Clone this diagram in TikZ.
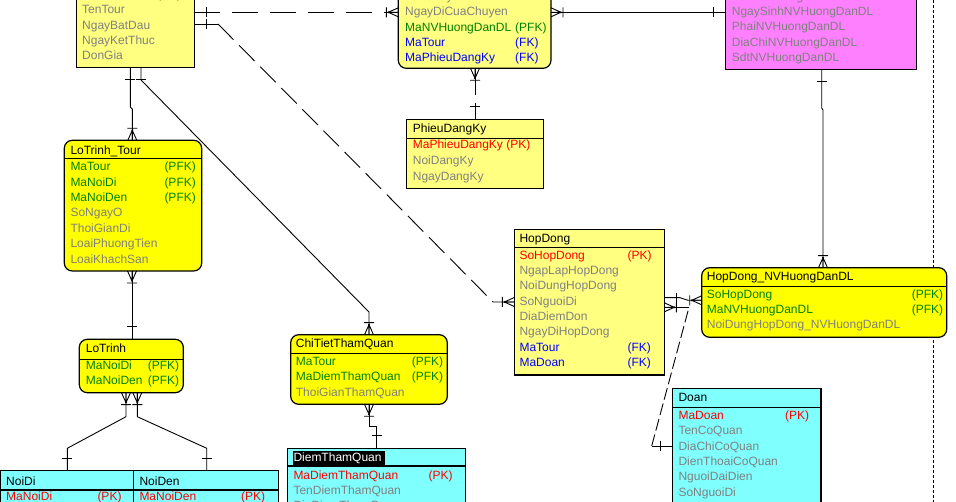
\documentclass[tikz,border=0pt]{standalone}
\usepackage{fontspec}
\setmainfont{Liberation Sans}
\usetikzlibrary{calc}
\definecolor{ly}{HTML}{FFFF80}
\definecolor{by}{HTML}{FFFF00}
\definecolor{mg}{HTML}{FF80FF}
\definecolor{cy}{HTML}{80FFFF}
\definecolor{gy}{HTML}{808080}
\definecolor{gn}{HTML}{008000}
\definecolor{rd}{HTML}{FF0000}
\definecolor{bl}{HTML}{0000FF}
\newcounter{attrc}
\newcommand\attr[4]{\stepcounter{attrc}\node[attr,text=#1] (t\arabic{attrc}) at (#2,#3) {#4};}
\tikzset{
  attr/.style={anchor=base west, inner sep=0pt, font=\fontsize{12}{14}\selectfont},
  ent/.style={draw=black, line width=1.2pt, anchor=north west, inner sep=0pt, outer sep=0pt},
  sepline/.style={line width=1.2pt},
  conn/.style={line width=0.9pt},
  crowfoot/.pic={\draw[line width=0.9pt] (0,-4.5)--(10,0) (0,0)--(10,0) (0,4.5)--(10,0) (12,-5)--(12,5); \fill (10,0) circle (1pt);},
  onebar/.pic={\draw[line width=0.9pt] (12.5,-5)--(12.5,5);},
}
\begin{document}
\begin{tikzpicture}[x=1pt,y=-1pt]
\useasboundingbox (0,0) rectangle (956,502);
\clip (0,0) rectangle (956,502);
\fill[white] (0,0) rectangle (956,502);

% page border line
\draw[dash pattern=on 3pt off 2pt, line width=0.9pt] (933.3,0) -- (933.3,502);

% ---------------- Tour
\node[ent, fill=ly, minimum width=118pt, minimum height=127.3pt] (tour) at (76.3,-60) {};
\attr{rd}{82}{-1.3}{MaTour}\attr{rd}{157}{-1.3}{(PK)}
\attr{gy}{82}{14}{TenTour}
\attr{gy}{82}{29.3}{NgayBatDau}
\attr{gy}{82}{44.7}{NgayKetThuc}
\attr{gy}{82}{60}{DonGia}

% ---------------- Chuyen
\node[ent, fill=ly, rounded corners=8pt, minimum width=152.7pt, minimum height=128.3pt] (chuyen) at (398.3,-60) {};
\attr{gy}{405}{0.8}{TenChuyen}
\attr{gy}{405}{16}{NgayDiCuaChuyen}
\attr{gn}{405}{31.3}{MaNVHuongDanDL}\attr{gn}{515}{31.3}{(PFK)}
\attr{bl}{405}{46.6}{MaTour}\attr{bl}{515}{46.6}{(FK)}
\attr{bl}{405}{61.9}{MaPhieuDangKy}\attr{bl}{515}{61.9}{(FK)}

% ---------------- NVHuongDanDL
\node[ent, fill=mg, minimum width=191pt, minimum height=129.3pt] (nv) at (725.7,-60) {};
\attr{gy}{731.7}{0.5}{TenNVHuongDanDL}
\attr{gy}{731.7}{15.7}{NgaySinhNVHuongDanDL}
\attr{gy}{731.7}{31}{PhaiNVHuongDanDL}
\attr{gy}{731.7}{46.3}{DiaChiNVHuongDanDL}
\attr{gy}{731.7}{61.6}{SdtNVHuongDanDL}

% ---------------- PhieuDangKy
\node[ent, fill=ly, minimum width=136.6pt, minimum height=69pt] (phieu) at (406.7,119.3) {};
\draw[sepline] (406.7,138.3) -- (543.3,138.3);
\attr{black}{412.7}{132.7}{PhieuDangKy}
\attr{rd}{412.7}{149}{MaPhieuDangKy (PK)}
\attr{gy}{412.7}{165}{NoiDangKy}
\attr{gy}{412.7}{180.7}{NgayDangKy}

% ---------------- LoTrinh_Tour
\node[ent, fill=by, rounded corners=8pt, minimum width=137.4pt, minimum height=130.7pt] (ltt) at (64.3,140.3) {};
\draw[sepline] (64.3,158.3) -- (201.7,158.3);
\attr{black}{70.3}{154.3}{LoTrinh\_Tour}
\attr{gn}{70.3}{170.7}{MaTour}\attr{gn}{164.3}{170.7}{(PFK)}
\attr{gn}{70.3}{186.1}{MaNoiDi}\attr{gn}{164.3}{186.1}{(PFK)}
\attr{gn}{70.3}{201.6}{MaNoiDen}\attr{gn}{164.3}{201.6}{(PFK)}
\attr{gy}{70.3}{217}{SoNgayO}
\attr{gy}{70.3}{232.4}{ThoiGianDi}
\attr{gy}{70.3}{247.9}{LoaiPhuongTien}
\attr{gy}{70.3}{263.3}{LoaiKhachSan}

% ---------------- LoTrinh
\node[ent, fill=by, rounded corners=8pt, minimum width=104pt, minimum height=53.4pt] (lt) at (79.3,339.3) {};
\draw[sepline] (79.3,359.3) -- (183.3,359.3);
\attr{black}{85.7}{352.7}{LoTrinh}
\attr{gn}{85.7}{369.3}{MaNoiDi}\attr{gn}{147.7}{369.3}{(PFK)}
\attr{gn}{85.7}{384.7}{MaNoiDen}\attr{gn}{147.7}{384.7}{(PFK)}

% ---------------- NoiDi / NoiDen
\node[ent, fill=cy, minimum width=133.3pt, minimum height=60pt] (noidi) at (0.6,470.7) {};
\node[ent, fill=cy, minimum width=145pt, minimum height=60pt] (noiden) at (133.3,470.7) {};
\draw[sepline] (0,490) -- (278.3,490);
\attr{black}{6}{485.7}{NoiDi}
\attr{rd}{6}{500.7}{MaNoiDi}\attr{rd}{97.3}{500.7}{(PK)}
\attr{black}{139.3}{485.7}{NoiDen}
\attr{rd}{139.3}{500.7}{MaNoiDen}\attr{rd}{241}{500.7}{(PK)}

% ---------------- ChiTietThamQuan
\node[ent, fill=by, rounded corners=8pt, minimum width=156.6pt, minimum height=69.6pt] (cttq) at (290.7,334.7) {};
\draw[sepline] (290.7,353.3) -- (447.3,353.3);
\attr{black}{295.7}{348}{ChiTietThamQuan}
\attr{gn}{295.7}{365.7}{MaTour}\attr{gn}{411.7}{365.7}{(PFK)}
\attr{gn}{295.7}{381}{MaDiemThamQuan}\attr{gn}{411.7}{381}{(PFK)}
\attr{gy}{295.7}{396.3}{ThoiGianThamQuan}

% ---------------- DiemThamQuan
\node[ent, fill=cy, minimum width=178pt, minimum height=80pt] (dtq) at (287.3,448.3) {};
\draw[sepline] (287.3,466) -- (465.3,466);
\fill[black] (292.7,450.7) rectangle (385,465);
\attr{white}{293.3}{461.3}{DiemThamQuan}
\attr{rd}{293.3}{479}{MaDiemThamQuan}\attr{rd}{428.3}{479}{(PK)}
\attr{gy}{293.3}{494.3}{TenDiemThamQuan}
\attr{gy}{293.3}{509.6}{DiaDiemThamQuan}

% ---------------- HopDong
\node[ent, fill=ly, minimum width=150pt, minimum height=145.7pt] (hd) at (514.3,229.3) {};
\draw[sepline] (514.3,247.3) -- (664.3,247.3);
\attr{black}{519.3}{242.7}{HopDong}
\attr{rd}{519.3}{259.3}{SoHopDong}\attr{rd}{627.3}{259.3}{(PK)}
\attr{gy}{519.3}{274.7}{NgapLapHopDong}
\attr{gy}{519.3}{290}{NoiDungHopDong}
\attr{gy}{519.3}{305.3}{SoNguoiDi}
\attr{gy}{519.3}{320.7}{DiaDiemDon}
\attr{gy}{519.3}{336}{NgayDiHopDong}
\attr{bl}{519.3}{351.3}{MaTour}\attr{bl}{627.3}{351.3}{(FK)}
\attr{bl}{519.3}{366.7}{MaDoan}\attr{bl}{627.3}{366.7}{(FK)}

% ---------------- HopDong_NVHuongDanDL
\node[ent, fill=by, rounded corners=8pt, minimum width=245pt, minimum height=69.6pt] (hdnv) at (701.7,267.7) {};
\draw[sepline] (701.7,286.7) -- (946.7,286.7);
\attr{black}{706.7}{280.7}{HopDong\_NVHuongDanDL}
\attr{gn}{706.7}{298.3}{SoHopDong}\attr{gn}{911.7}{298.3}{(PFK)}
\attr{gn}{706.7}{313.7}{MaNVHuongDanDL}\attr{gn}{911.7}{313.7}{(PFK)}
\attr{gy}{706.7}{329}{NoiDungHopDong\_NVHuongDanDL}

% ---------------- Doan
\node[ent, fill=cy, minimum width=148.3pt, minimum height=140pt] (doan) at (672.7,388.3) {};
\draw[sepline] (672.7,407.3) -- (821,407.3);
\attr{black}{678.3}{401.7}{Doan}
\attr{rd}{678.3}{419.3}{MaDoan}\attr{rd}{785}{419.3}{(PK)}
\attr{gy}{678.3}{434.7}{TenCoQuan}
\attr{gy}{678.3}{450}{DiaChiCoQuan}
\attr{gy}{678.3}{465.3}{DienThoaiCoQuan}
\attr{gy}{678.3}{480.7}{NguoiDaiDien}
\attr{gy}{678.3}{496}{SoNguoiDi}

% ================= connectors
% Tour -> Chuyen
\draw[conn, dash pattern=on 26pt off 12pt] (tour.east |- 0,12.3) -- (chuyen.west |- 0,12.3);
\pic at (tour.east |- 0,12.3) {onebar};
\pic[rotate=180] at (chuyen.west |- 0,12.3) {crowfoot};

% Tour -> HopDong
\draw[conn] (tour.east |- 0,24) -- (218,24);
\draw[conn, dash pattern=on 22pt off 8pt] (218,24) -- (493,302) -- (hd.west |- 0,302);
\pic at (tour.east |- 0,24) {onebar};
\pic[rotate=180] at (hd.west |- 0,302) {crowfoot};

% Tour -> LoTrinh_Tour
\draw[conn] (tour.south -| 130.3,0) -- (130.3,107) -- (132.3,109) -- (ltt.north -| 132.3,0);
\pic[rotate=-90] at (tour.south -| 130.3,0) {onebar};
\pic[rotate=90] at (ltt.north -| 132.3,0) {crowfoot};

% Tour -> ChiTietThamQuan
\draw[conn] (tour.south -| 141,0) -- (141,80) -- (369,312) -- (cttq.north -| 369,0);
\pic[rotate=-90] at (tour.south -| 141,0) {onebar};
\pic[rotate=90] at (cttq.north -| 369,0) {crowfoot};

% LoTrinh_Tour -> LoTrinh
\draw[conn] (ltt.south -| 132,0) -- (lt.north -| 132,0);
\pic[rotate=-90] at (ltt.south -| 132,0) {crowfoot};
\pic[rotate=90] at (lt.north -| 132,0) {onebar};

% LoTrinh -> NoiDi / NoiDen
\draw[conn] (lt.south -| 126,0) -- (126,416.7) -- (67.3,448.3) -- (noidi.north -| 67.3,0);
\pic[rotate=-90] at (lt.south -| 126,0) {crowfoot};
\pic[rotate=90] at (noidi.north -| 67.3,0) {onebar};
\draw[conn] (lt.south -| 137.3,0) -- (137.3,416.7) -- (206.7,448.3) -- (noiden.north -| 206.7,0);
\pic[rotate=-90] at (lt.south -| 137.3,0) {crowfoot};
\pic[rotate=90] at (noiden.north -| 206.7,0) {onebar};

% ChiTietThamQuan -> DiemThamQuan
\draw[conn] (cttq.south -| 369,0) -- (369,426.7) -- (376.7,426.7) -- (dtq.north -| 376.7,0);
\pic[rotate=-90] at (cttq.south -| 369,0) {crowfoot};
\pic[rotate=90] at (dtq.north -| 376.7,0) {onebar};

% Chuyen -> PhieuDangKy
\draw[conn, dash pattern=on 27pt off 8pt] (chuyen.south -| 475,0) -- (phieu.north -| 475,0);
\pic[rotate=-90] at (chuyen.south -| 475,0) {crowfoot};
\pic[rotate=90] at (phieu.north -| 475,0) {onebar};

% Chuyen -> NVHuongDanDL
\draw[conn] (chuyen.east |- 0,12.3) -- (nv.west |- 0,12.3);
\pic at (chuyen.east |- 0,12.3) {crowfoot};
\pic[rotate=180] at (nv.west |- 0,12.3) {onebar};

% NVHuongDanDL -> HopDong_NVHuongDanDL
\draw[conn] (nv.south -| 821.7,0) -- (821.7,108) -- (823,110) -- (hdnv.north -| 823,0);
\pic[rotate=-90] at (nv.south -| 821.7,0) {onebar};
\pic[rotate=90] at (hdnv.north -| 823,0) {crowfoot};

% HopDong -> HopDong_NVHuongDanDL
\draw[conn] (hd.east |- 0,297.7) -- (680,297.7) -- (688,300.3) -- (hdnv.west |- 0,300.3);
\pic at (hd.east |- 0,297.7) {onebar};
\pic[rotate=180] at (hdnv.west |- 0,300.3) {crowfoot};

% Doan -> HopDong
\draw[conn] (doan.west |- 0,446) -- (651.7,446);
\draw[conn, dash pattern=on 12pt off 4pt] (651.7,446) -- (689,307.3);
\draw[conn] (689,307.3) -- (hd.east |- 0,307.3);
\pic[rotate=180] at (doan.west |- 0,446) {onebar};
\pic at (hd.east |- 0,307.3) {crowfoot};
\end{tikzpicture}
\end{document}
